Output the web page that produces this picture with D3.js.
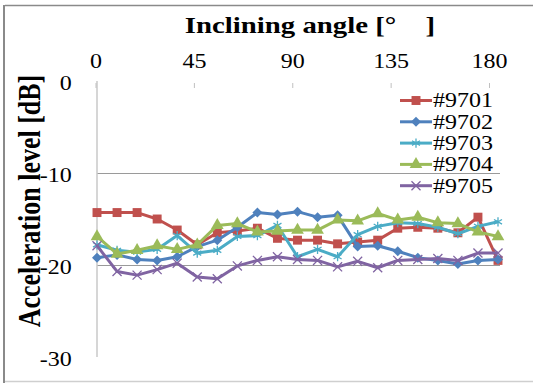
<!DOCTYPE html>
<html>
<head>
<meta charset="utf-8">
<script src="https://cdn.jsdelivr.net/npm/d3@7"></script>
<style>
  body { margin: 0; background: #fff; }
  svg { display: block; }
  text { font-family: "Liberation Serif", "Times New Roman", serif; fill: #000; }
</style>
</head>
<body>
<div id="chart"></div>
<script>
// angles of the measured points (categories) and the top axis ticks
const angles = [0, 9, 18, 27, 36, 45, 54, 63, 72, 81, 90, 99, 108, 117, 126, 135, 144, 153, 162, 171, 180];
const xTicks = [0, 45, 90, 135, 180];
const yTicks = [0, -10, -20, -30];

const names = ['#9701', '#9702', '#9703', '#9704', '#9705'];
const s9701 = [-14.3, -14.3, -14.3, -15.0, -16.2, -17.8, -16.5, -16.3, -16.0, -17.1, -17.3, -17.3, -17.7, -17.5, -17.3, -16.0, -15.9, -16.0, -16.5, -14.8, -19.5];
const s9702 = [-19.2, -18.9, -19.4, -19.5, -19.1, -18.0, -17.3, -15.9, -14.3, -14.5, -14.2, -14.8, -14.6, -18.0, -17.9, -18.5, -19.2, -19.5, -19.9, -19.5, -19.4];
const s9703 = [-17.8, -18.4, -18.6, -18.3, -16.8, -18.7, -18.4, -16.9, -16.8, -15.7, -19.1, -18.3, -19.1, -16.7, -15.8, -15.4, -15.5, -15.9, -16.6, -15.8, -15.3];
const s9704 = [-16.9, -18.8, -18.4, -17.9, -18.3, -17.8, -15.7, -15.5, -16.4, -16.3, -16.2, -16.2, -15.1, -15.2, -14.4, -15.1, -14.8, -15.4, -15.5, -16.4, -16.9];
const s9705 = [-17.9, -20.7, -21.1, -20.5, -19.8, -21.3, -21.5, -20.1, -19.5, -19.1, -19.4, -19.5, -20.2, -19.6, -20.3, -19.5, -19.4, -19.3, -19.5, -18.7, -18.7];

const seriesValues = [s9701, s9702, s9703, s9704, s9705];
const colors = ['#C0504D', '#4F81BD', '#4BACC6', '#9BBB59', '#8064A2'];

const width = 533;
const height = 383;
const plot = { left: 97, right: 500, top: 81, bottom: 357 };
const stretch = 1.2; // the reference text is a bit wider than plain Times

const svg = d3.select('#chart')
    .append('svg')
    .attr('width', width)
    .attr('height', height);

// frame
svg.append('line').attr('x1', 4).attr('x2', 4).attr('y1', 5).attr('y2', height)
    .attr('stroke', '#8a8a8a').attr('stroke-width', 2);
svg.append('line').attr('x1', 5).attr('x2', width).attr('y1', 5.5).attr('y2', 5.5)
    .attr('stroke', '#8a8a8a').attr('stroke-width', 1.5);
svg.append('line').attr('x1', 5).attr('x2', width).attr('y1', 381.5).attr('y2', 381.5)
    .attr('stroke', '#cfcfcf').attr('stroke-width', 1.5);

const x = d3.scalePoint()
    .domain(angles)
    .range([97, 498]);

const xAxisScale = d3.scaleLinear()
    .domain([0, 180])
    .range([95.5, 489]);

const y = d3.scaleLinear()
    .domain([-30, 0])
    .range([plot.bottom, plot.top]);

// gridlines
svg.append('g')
    .selectAll('line')
    .data([-10, -20])
    .join('line')
    .attr('x1', plot.left)
    .attr('x2', plot.right)
    .attr('y1', d => Math.round(y(d)) + 0.5)
    .attr('y2', d => Math.round(y(d)) + 0.5)
    .attr('stroke', '#9a9a9a')
    .attr('stroke-width', 1);

// y axis line
svg.append('line')
    .attr('x1', plot.left).attr('x2', plot.left)
    .attr('y1', plot.top).attr('y2', plot.bottom)
    .attr('stroke', '#c8c8c8').attr('stroke-width', 1.5);

// top axis
const xAxis = svg.append('g')
    .attr('transform', `translate(0, ${plot.top + 2})`)
    .call(d3.axisTop(xAxisScale).tickValues(xTicks).tickSize(-5).tickFormat(d => d));
xAxis.select('.domain').remove();
xAxis.selectAll('line').attr('stroke', '#c0c0c0');
xAxis.selectAll('text')
    .attr('y', -15)
    .attr('font-size', '20px')
    .attr('transform', `scale(${stretch},1)`);

// left axis labels
const yAxis = svg.append('g')
    .attr('transform', `translate(${plot.left}, 0)`)
    .call(d3.axisLeft(y).tickValues(yTicks).tickSize(0).tickFormat(d => d));
yAxis.select('.domain').remove();
yAxis.selectAll('text')
    .attr('x', -21)
    .attr('dy', '0.42em')
    .attr('font-size', '20px')
    .attr('transform', `scale(${stretch},1)`);

// titles
svg.append('text')
    .attr('transform', `translate(310, 33) scale(${stretch},1)`)
    .attr('text-anchor', 'middle')
    .attr('font-size', '24px')
    .attr('font-weight', 'bold')
    .text('Inclining angle [°　]');

svg.append('text')
    .attr('transform', `translate(40, 201) rotate(-90) scale(1,${stretch})`)
    .attr('text-anchor', 'middle')
    .attr('font-size', '26px')
    .attr('font-weight', 'bold')
    .text('Acceleration level [dB]');

// markers
const markers = [
    { type: d3.symbolSquare, size: 80, rotate: 0, filled: true },
    { type: d3.symbolSquare, size: 50, rotate: 45, filled: true },
    { type: d3.symbolAsterisk, size: 60, rotate: 0, filled: false },
    { type: d3.symbolTriangle, size: 70, rotate: 0, filled: true },
    { type: d3.symbolTimes, size: 55, rotate: 0, filled: false }
];

const drawMarker = (sel, i) => {
    const m = markers[i];
    sel.attr('d', d3.symbol().type(m.type).size(m.size)())
        .attr('fill', m.filled ? colors[i] : 'none')
        .attr('stroke', colors[i])
        .attr('stroke-width', m.filled ? 0 : 1.3);
};

const line = d3.line()
    .x((d, i) => x(angles[i]))
    .y(d => y(d));

seriesValues.forEach((vals, i) => {
    const g = svg.append('g');
    g.append('path')
        .datum(vals)
        .attr('d', line)
        .attr('fill', 'none')
        .attr('stroke', colors[i])
        .attr('stroke-width', 3)
        .attr('stroke-linejoin', 'round');
    g.selectAll('path.mk')
        .data(vals)
        .join('path')
        .attr('class', 'mk')
        .attr('transform', (d, j) => `translate(${x(angles[j])}, ${y(d)}) rotate(${markers[i].rotate})`)
        .call(drawMarker, i);
});

// legend
const legend = svg.append('g')
    .selectAll('g')
    .data(names)
    .join('g')
    .attr('transform', (d, i) => `translate(400, ${100.5 + i * 21.3})`);

legend.append('line')
    .attr('x1', 0).attr('x2', 32)
    .attr('stroke', (d, i) => colors[i])
    .attr('stroke-width', 3);

legend.append('path')
    .attr('transform', (d, i) => `translate(16, 0) rotate(${markers[i].rotate})`)
    .each(function (d, i) { d3.select(this).call(drawMarker, i); });

legend.append('text')
    .attr('transform', `translate(33, 0) scale(${stretch},1)`)
    .attr('dy', '0.34em')
    .attr('font-size', '20px')
    .text(d => d);
</script>
</body>
</html>
